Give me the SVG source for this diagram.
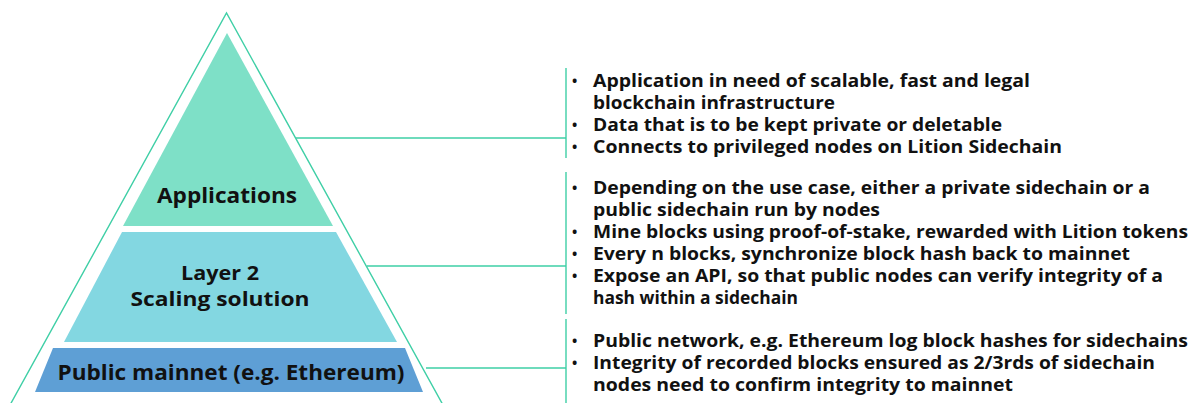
<svg xmlns="http://www.w3.org/2000/svg" width="1196" height="403" viewBox="0 0 1196 403">
<style>
.lbl{font-family:"Open Sans","Liberation Sans",sans-serif;font-weight:700;font-size:21px;fill:#111;text-anchor:middle}
.lbl2{font-family:"Open Sans","Liberation Sans",sans-serif;font-weight:700;font-size:19px;fill:#111;text-anchor:middle}
.txt{font-family:"Open Sans","Liberation Sans",sans-serif;font-weight:700;font-size:17px;fill:#111}
.bul{font-family:"Open Sans","Liberation Sans",sans-serif;font-weight:700;font-size:14px;fill:#111}
.ln{fill:none;stroke:#3fcfa6;stroke-width:1.4}
</style>
<rect width="1196" height="403" fill="#fff"/>
<g id="outline"><path class="ln" d="M10 405 L226.5 13 L443 405"/></g>
<g id="applications">
<polygon points="227,33 333,226 123,226" fill="#7ee0c7"/>
<text class="lbl" x="227" y="203" textLength="140" lengthAdjust="spacingAndGlyphs">Applications</text>
</g>
<g id="layer2">
<polygon points="122,232 336,232 397,342 64,342" fill="#83d7e1"/>
<text class="lbl2" x="220" y="280" textLength="78" lengthAdjust="spacingAndGlyphs">Layer 2</text>
<text class="lbl2" x="220" y="306" textLength="179" lengthAdjust="spacingAndGlyphs">Scaling solution</text>
</g>
<g id="mainnet">
<polygon points="53,348 405,348 423,392 35,392" fill="#5e9fd5"/>
<text class="lbl" x="231" y="380" textLength="347" lengthAdjust="spacingAndGlyphs">Public mainnet (e.g. Ethereum)</text>
</g>
<g id="connectors">
<path class="ln" d="M296 138 H566 M566 68 V158"/>
<path class="ln" d="M367 266 H566 M566 172 V314"/>
<path class="ln" d="M426 368 H566 M566 319 V403"/>
</g>
<g id="apps-notes">
<text class="bul" x="572" y="86">•</text>
<text class="txt" x="593" y="87" textLength="437" lengthAdjust="spacingAndGlyphs">Application in need of scalable, fast and legal</text>
<text class="txt" x="593" y="109" textLength="242" lengthAdjust="spacingAndGlyphs">blockchain infrastructure</text>
<text class="bul" x="572" y="130">•</text>
<text class="txt" x="593" y="131" textLength="409" lengthAdjust="spacingAndGlyphs">Data that is to be kept private or deletable</text>
<text class="bul" x="572" y="152">•</text>
<text class="txt" x="593" y="153" textLength="469" lengthAdjust="spacingAndGlyphs">Connects to privileged nodes on Lition Sidechain</text>
</g>
<g id="layer2-notes">
<text class="bul" x="572" y="193">•</text>
<text class="txt" x="593" y="194" textLength="557" lengthAdjust="spacingAndGlyphs">Depending on the use case, either a private sidechain or a</text>
<text class="txt" x="593" y="216" textLength="287" lengthAdjust="spacingAndGlyphs">public sidechain run by nodes</text>
<text class="bul" x="572" y="237">•</text>
<text class="txt" x="593" y="238" textLength="595" lengthAdjust="spacingAndGlyphs">Mine blocks using proof-of-stake, rewarded with Lition tokens</text>
<text class="bul" x="572" y="259">•</text>
<text class="txt" x="593" y="260" textLength="537" lengthAdjust="spacingAndGlyphs">Every n blocks, synchronize block hash back to mainnet</text>
<text class="bul" x="572" y="281">•</text>
<text class="txt" x="593" y="282" textLength="570" lengthAdjust="spacingAndGlyphs">Expose an API, so that public nodes can verify integrity of a</text>
<text class="txt" x="593" y="304" textLength="205" lengthAdjust="spacingAndGlyphs">hash within a sidechain</text>
</g>
<g id="mainnet-notes">
<text class="bul" x="572" y="346">•</text>
<text class="txt" x="593" y="347" textLength="595" lengthAdjust="spacingAndGlyphs">Public network, e.g. Ethereum log block hashes for sidechains</text>
<text class="bul" x="572" y="368">•</text>
<text class="txt" x="593" y="369" textLength="562" lengthAdjust="spacingAndGlyphs">Integrity of recorded blocks ensured as 2/3rds of sidechain</text>
<text class="txt" x="593" y="391" textLength="420" lengthAdjust="spacingAndGlyphs">nodes need to confirm integrity to mainnet</text>
</g>
</svg>
